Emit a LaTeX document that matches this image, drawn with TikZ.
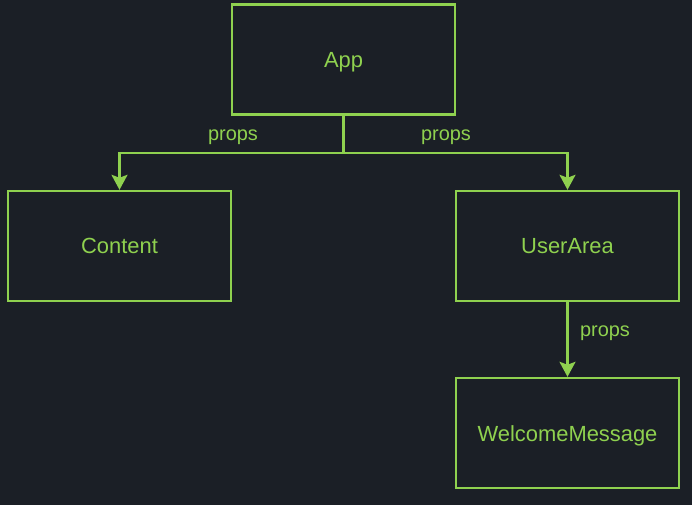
\documentclass[tikz,border=0pt]{standalone}
\usepackage{fontspec}
\setmainfont{Liberation Sans}
\usepackage{tikz}
\usetikzlibrary{arrows.meta}
\definecolor{bgdark}{HTML}{1B1F26}
\definecolor{leaf}{HTML}{8FD14F}

\begin{document}
\begin{tikzpicture}[x=1bp, y=-1bp,
  every node/.style={text=leaf, font=\fontsize{22}{26}\selectfont},
  comp/.style={rectangle, draw=leaf, line width=2.4bp, minimum width=223bp, minimum height=110bp,
    text height=16bp, text depth=0bp},
  flow/.style={draw=leaf, line width=2.4bp, -{Stealth[length=15bp, width=16bp, inset=3bp]}},
  tag/.style={font=\fontsize{20}{24}\selectfont, text height=10.5bp, text depth=0bp}]
  \fill[bgdark] (0,0) rectangle (692,505);
  \node (app) [comp] at (343.5,59.5) {App};
  \node (content) [comp] at (119.5,246) {Content};
  \node (userarea) [comp] at (567.5,246) {UserArea};
  \node (welcome) [comp] at (567.5,433) {WelcomeMessage};
  \coordinate (split) at (343.5,153);
  \draw[draw=leaf, line width=2.4bp] (app.south) -- (split);
  \draw[flow] (split) -| (content.north);
  \draw[flow] (split) -| (userarea.north);
  \draw[flow] (userarea.south) -- (welcome.north);
  \node (p1) [tag] at (233,135) {props};
  \node (p2) [tag] at (446,135) {props};
  \node (p3) [tag] at (605,331) {props};
\end{tikzpicture}
\end{document}
